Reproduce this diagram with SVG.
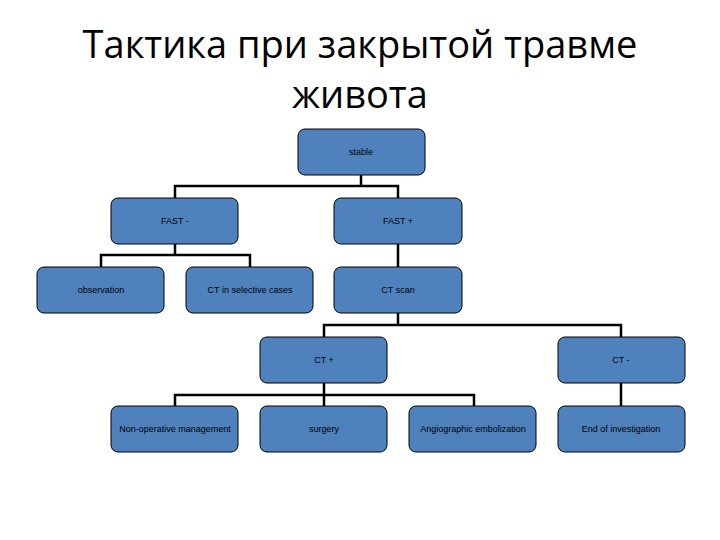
<svg xmlns="http://www.w3.org/2000/svg" width="720" height="540" viewBox="0 0 720 540">
<style>
.n rect{fill:#4f81bd;stroke:#000;stroke-width:1;}
.n text{font-family:"Liberation Sans",Arial,sans-serif;font-size:9px;fill:#000;text-anchor:middle;}
.t{font-family:"Open Sans","Liberation Sans",sans-serif;font-size:38px;fill:#000;text-anchor:middle;}
#c path{fill:none;stroke:#000;stroke-width:2.5;}
</style>
<rect width="720" height="540" fill="#fff"/>
<text class="t" x="360" y="58">Тактика при закрытой травме</text>
<text class="t" x="360" y="108">живота</text>
<g id="c">
<path d="M361 175V186M175 198V186H398V198"/>
<path d="M175 244V255M101 267V255H250V267"/>
<path d="M398 244V267"/>
<path d="M398 313V325M324 337V325H621V337"/>
<path d="M324 383V395M175 406V395H474V406M324 395V406"/>
<path d="M621 383V406"/>
</g>
<g id="stable" class="n"><rect x="298" y="129" width="127" height="46" rx="7"/><text x="361" y="155">stable</text></g>
<g id="fastneg" class="n"><rect x="111" y="198" width="127" height="46" rx="7"/><text x="175" y="224">FAST -</text></g>
<g id="fastpos" class="n"><rect x="334" y="198" width="128" height="46" rx="7"/><text x="398" y="224">FAST +</text></g>
<g id="observation" class="n"><rect x="37" y="267" width="127" height="46" rx="7"/><text x="101" y="293">observation</text></g>
<g id="ctsel" class="n"><rect x="186" y="267" width="127" height="46" rx="7"/><text x="250" y="293">CT in selective cases</text></g>
<g id="ctscan" class="n"><rect x="334" y="267" width="128" height="46" rx="7"/><text x="398" y="293">CT scan</text></g>
<g id="ctpos" class="n"><rect x="260" y="337" width="127" height="46" rx="7"/><text x="324" y="363">CT +</text></g>
<g id="ctneg" class="n"><rect x="558" y="337" width="127" height="46" rx="7"/><text x="621" y="363">CT -</text></g>
<g id="nonop" class="n"><rect x="111" y="406" width="127" height="46" rx="7"/><text x="175" y="432">Non-operative management</text></g>
<g id="surgery" class="n"><rect x="260" y="406" width="127" height="46" rx="7"/><text x="324" y="432">surgery</text></g>
<g id="angio" class="n"><rect x="409" y="406" width="127" height="46" rx="7"/><text x="473" y="432">Angiographic embolization</text></g>
<g id="end" class="n"><rect x="558" y="406" width="127" height="46" rx="7"/><text x="621" y="432">End of investigation</text></g>
</svg>
